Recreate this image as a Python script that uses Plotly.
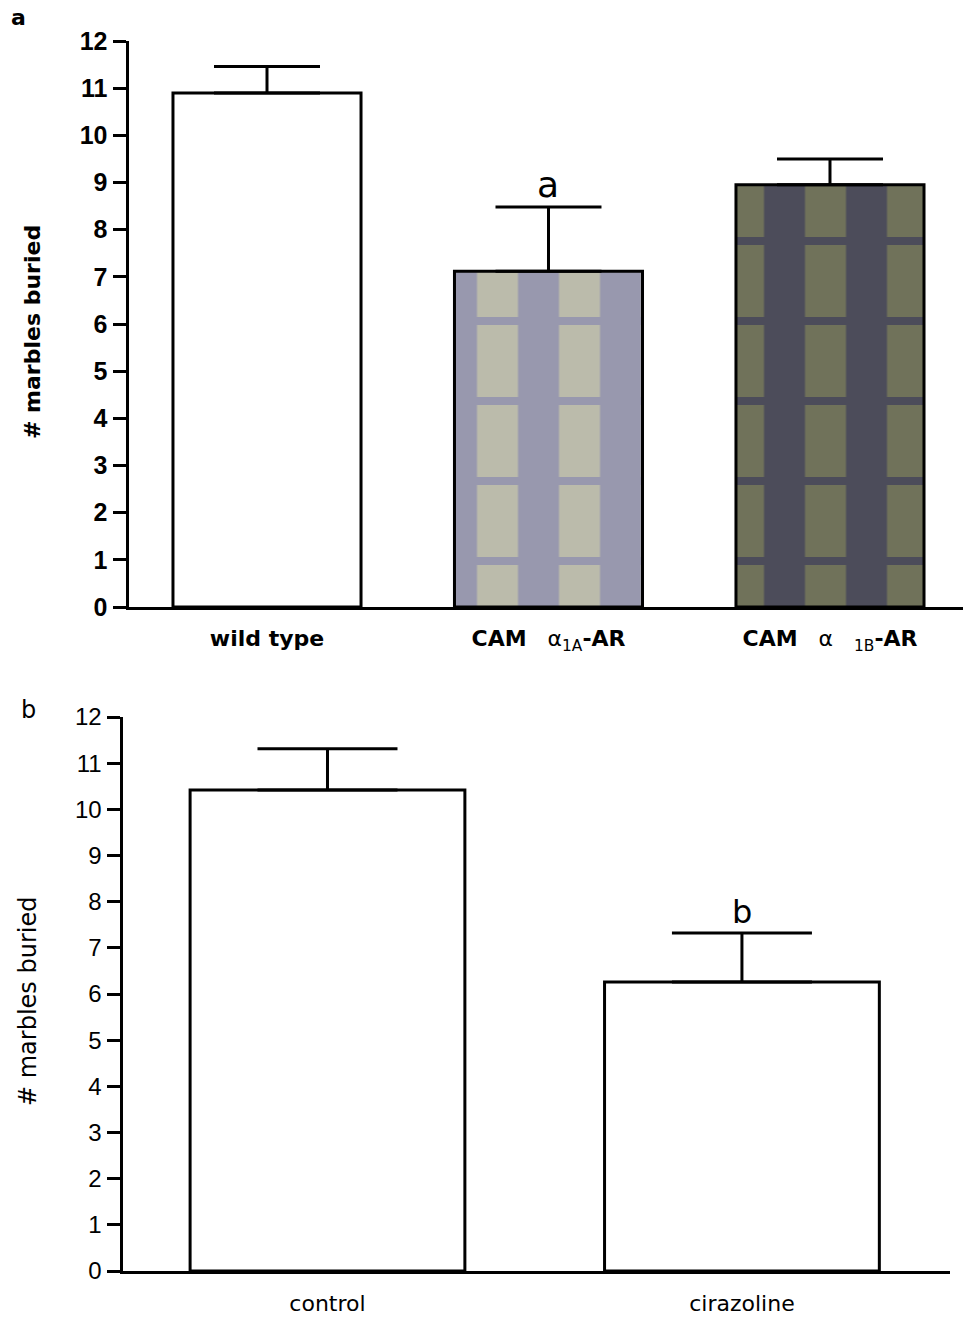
import plotly.graph_objects as go

FONT = "DejaVu Sans, Liberation Sans, Arial"
ARIAL = "Liberation Sans, Arial"

# Panel a data
cats_a = ["wild type", "CAM α1A-AR", "CAM α1B-AR"]
ticktext_a = ["<b>wild type</b>",
              "<b>CAM</b>   α<sub>1A</sub><b>-AR</b>",
              "<b>CAM</b>   α   <sub>1B</sub><b>-AR</b>"]
mean_a = [10.9, 7.12, 8.95]
sem_a = [0.56, 1.36, 0.55]
sig_a = ["", "a", ""]

# Panel b data
cats_b = ["control", "cirazoline"]
mean_b = [10.42, 6.26]
sem_b = [0.89, 1.06]
sig_b = ["", "b"]

yticks = list(range(0, 13))
ytitle = "# marbles buried"

# bar fill styles (background, stripe colour)
bg_a = ["white", "#9898ae", "#4c4c5a"]
fg_a = ["white", "#bbbbab", "#70725a"]
stripe_a = ["", "|", "|"]
band_a = ["", "-", "-"]

fig = go.Figure()

xs_a = list(range(len(cats_a)))
for i in xs_a:
    fig.add_trace(go.Bar(
        x=[xs_a[i]], y=[mean_a[i]], width=0.668,
        marker=dict(
            color=bg_a[i], line=dict(width=0),
            pattern=dict(shape=stripe_a[i], fgcolor=fg_a[i], bgcolor=bg_a[i],
                         fgopacity=1, size=82, solidity=0.5, fillmode="overlay"),
        ),
        xaxis="x", yaxis="y", showlegend=False, hoverinfo="skip",
    ))
for i in xs_a:
    fig.add_trace(go.Bar(
        x=[xs_a[i]], y=[mean_a[i]], width=0.668,
        marker=dict(
            color="rgba(0,0,0,0)", line=dict(width=3, color="black"),
            pattern=dict(shape=band_a[i], fgcolor=bg_a[i], fgopacity=1,
                         size=80, solidity=0.1, fillmode="overlay"),
        ),
        error_y=dict(type="data", symmetric=False, array=[sem_a[i]],
                     arrayminus=[0], color="black", thickness=3, width=53),
        xaxis="x", yaxis="y", showlegend=False, hoverinfo="skip",
    ))

# Panel b
fig.add_trace(go.Bar(
    x=list(range(len(cats_b))), y=mean_b, width=0.663,
    marker=dict(color="white", line=dict(width=3, color="black")),
    error_y=dict(type="data", symmetric=False, array=sem_b,
                 arrayminus=[0] * len(sem_b), color="black",
                 thickness=3, width=70),
    xaxis="x2", yaxis="y2", showlegend=False, hoverinfo="skip",
))

annotations = []
for i, s in enumerate(sig_a):
    if s:
        annotations.append(dict(x=i, y=mean_a[i] + sem_a[i], xref="x", yref="y",
                                text=s, showarrow=False, yanchor="bottom", yshift=0,
                                font=dict(size=36, color="black", family=FONT)))
for i, s in enumerate(sig_b):
    if s:
        annotations.append(dict(x=i, y=mean_b[i] + sem_b[i], xref="x2", yref="y2",
                                text=s, showarrow=False, yanchor="bottom", yshift=0,
                                font=dict(size=32, color="black", family=FONT)))
# panel letters
annotations.append(dict(x=18 / 963, y=1 - 18 / 1317, xref="paper", yref="paper",
                        text="<b>a</b>", showarrow=False, xanchor="center", yanchor="middle",
                        font=dict(size=22, color="black", family=FONT)))
annotations.append(dict(x=28 / 963, y=1 - 710 / 1317, xref="paper", yref="paper",
                        text="b", showarrow=False, xanchor="center", yanchor="middle",
                        font=dict(size=24, color="black", family=FONT)))
# y-axis titles
annotations.append(dict(x=32 / 963, y=1 - 332 / 1317, xref="paper", yref="paper",
                        text="<b>" + ytitle + "</b>", textangle=-90, showarrow=False,
                        xanchor="center", yanchor="middle",
                        font=dict(size=22, color="black", family=FONT)))
annotations.append(dict(x=28 / 963, y=1 - 1002 / 1317, xref="paper", yref="paper",
                        text=ytitle, textangle=-90, showarrow=False,
                        xanchor="center", yanchor="middle",
                        font=dict(size=24, color="black", family=FONT)))

yaxis_common = dict(showgrid=False, zeroline=False, showline=True, linewidth=3,
                    linecolor="black", ticks="outside", tickcolor="black",
                    ticklen=13, tickwidth=3, range=[0, 12], tickvals=yticks,
                    automargin=False)
xaxis_common = dict(showgrid=False, zeroline=False, showline=True, linewidth=3,
                    linecolor="black", ticks="outside", tickcolor="rgba(0,0,0,0)",
                    automargin=False)

fig.update_layout(
    width=963, height=1317,
    margin=dict(l=0, r=0, t=0, b=0, autoexpand=False),
    paper_bgcolor="white", plot_bgcolor="white",
    barmode="overlay",
    font=dict(family=FONT, color="black"),
    xaxis=dict(domain=[128.5 / 963, 1.0], range=[-0.492, 2.4725],
               tickvals=xs_a, ticktext=ticktext_a, ticklen=10,
               tickfont=dict(size=22), anchor="y", **xaxis_common),
    yaxis=dict(domain=[710 / 1317, 1276 / 1317],
               tickfont=dict(size=25, weight="bold", family=ARIAL),
               anchor="x", **yaxis_common),
    xaxis2=dict(domain=[122.5 / 963, 950 / 963], range=[-0.4946, 1.502],
                tickvals=list(range(len(cats_b))), ticktext=cats_b, ticklen=11,
                tickfont=dict(size=22), anchor="y2", **xaxis_common),
    yaxis2=dict(domain=[46 / 1317, 600 / 1317],
                tickfont=dict(size=24, family=ARIAL),
                anchor="x2", **yaxis_common),
    annotations=annotations,
)

fig.write_html("out.html", config={"displayModeBar": False},
               post_script="document.body.style.margin='0px';")
